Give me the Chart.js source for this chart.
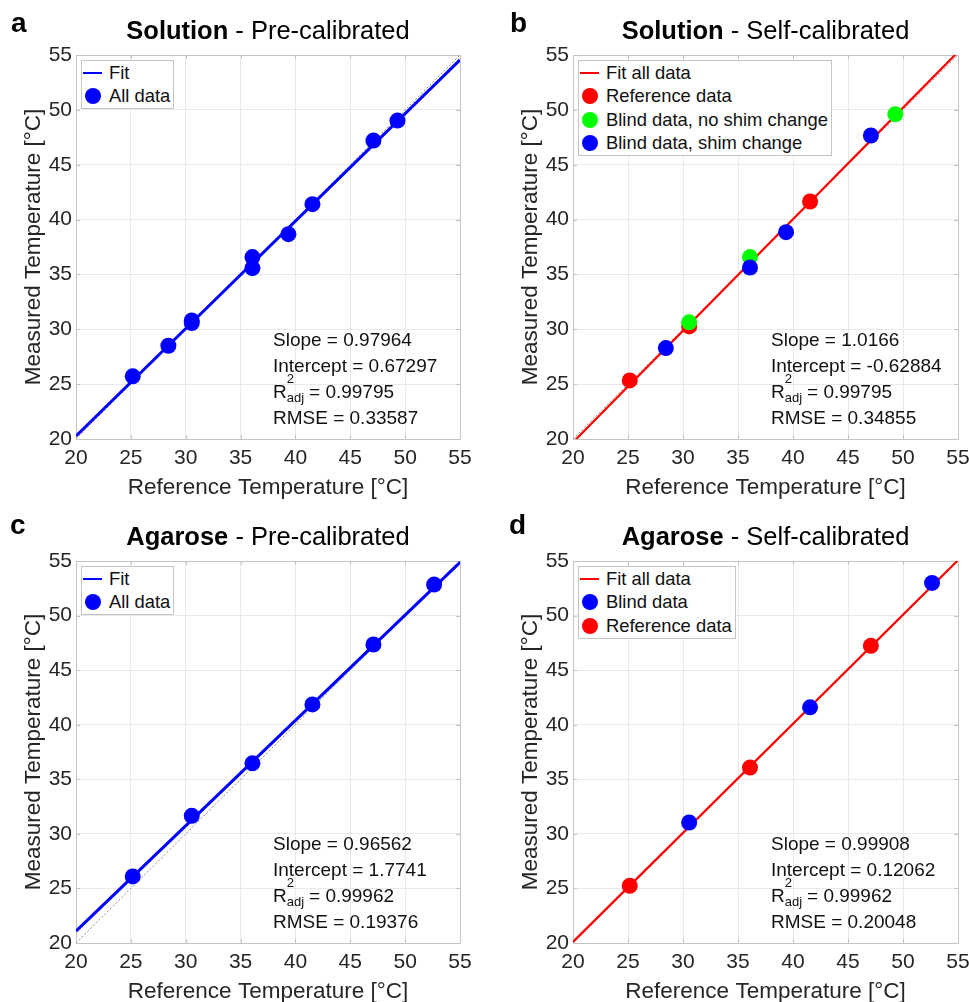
<!DOCTYPE html>
<html>
<head>
<meta charset="utf-8">
<title>Temperature calibration</title>
<script src="https://cdn.jsdelivr.net/npm/chart.js@4.4.1/dist/chart.umd.min.js"></script>
<style>
    body { margin: 0; background: #fff; }
    #fig { position: relative; width: 969px; height: 1002px; overflow: hidden; background: #fff;
           font-family: "Liberation Sans", Arial, sans-serif; }
    #fig canvas { position: absolute; }
    .letter { position: absolute; font-weight: bold; font-size: 28px; line-height: 28px; color: #000; }
    .title { position: absolute; width: 600px; text-align: center; font-size: 25.5px; line-height: 30px; color: #000; white-space: nowrap; }
    .stats { position: absolute; font-size: 19px; line-height: 26px; color: #111; white-space: nowrap; }
    .ss { position: relative; display: inline-block; width: 17px; height: 0; }
    .ss span { position: absolute; font-size: 13px; line-height: 13px; left: 0; }
    .legend { position: absolute; background: #fff; border: 1px solid #c4c4c4; padding-right: 3px;
              font-size: 18.4px; color: #111; }
    .legend .row { position: relative; height: 23.5px; display: flex; align-items: center; white-space: nowrap; }
    .legend .sw { position: relative; width: 27px; height: 23.5px; flex: none; }
    .legend .ln { position: absolute; left: 1px; width: 19px; }
    .legend .dot { position: absolute; left: 2.5px; top: 3.75px; width: 16px; height: 16px; border-radius: 50%; }
</style>
</head>
<body>
<div id="fig"></div>
<script>
const TICK_VALUES = [20, 25, 30, 35, 40, 45, 50, 55];
const X_TITLE = "Reference Temperature [°C]";
const Y_TITLE = "Measured Temperature [°C]";
const IDENTITY_X = [20, 55];
const IDENTITY_Y = [20, 55];

// a - Solution, pre-calibrated
const aRefT = [25.17, 28.42, 30.55, 30.55, 36.08, 36.08, 39.36, 41.55, 47.11, 49.30];
const aMeasT = [25.71, 28.50, 30.81, 30.57, 36.58, 35.57, 38.67, 41.40, 47.20, 49.02];
const aFitX = [20, 55];
const aFitY = [20.27, 54.55];
const aStats = ["0.97964", "0.67297", "0.99795", "0.33587"];

// b - Solution, self-calibrated
const bRefDataX = [25.16, 30.56, 41.55];
const bRefDataY = [25.34, 30.26, 41.65];
const bNoShimX = [30.56, 36.09, 49.30];
const bNoShimY = [30.63, 36.58, 49.60];
const bShimX = [28.44, 36.09, 39.37, 47.08];
const bShimY = [28.29, 35.63, 38.85, 47.66];
const bFitX = [20, 55];
const bFitY = [19.70, 55.28];
const bStats = ["1.0166", "-0.62884", "0.99795", "0.34855"];

// c - Agarose, pre-calibrated
const cRefT = [25.17, 30.55, 36.08, 41.55, 47.11, 52.64];
const cMeasT = [26.10, 31.65, 36.46, 41.86, 47.35, 52.84];
const cFitX = [20, 55];
const cFitY = [21.09, 54.88];
const cStats = ["0.96562", "1.7741", "0.99962", "0.19376"];

// d - Agarose, self-calibrated
const dBlindX = [30.56, 41.55, 52.64];
const dBlindY = [31.04, 41.59, 52.99];
const dRefDataX = [25.16, 36.09, 47.08];
const dRefDataY = [25.24, 36.07, 47.23];
const dFitX = [20, 55];
const dFitY = [20.10, 55.07];
const dStats = ["0.99908", "0.12062", "0.99962", "0.20048"];

const BLUE = "#0000ff";
const RED = "#ff0000";
const GREEN = "#00ff00";
const TEXT = "#262626";
const GRID = "#e9e9e9";
const FRAME = "#c4c4c4";
const FONT = "\"Liberation Sans\", Arial, sans-serif";

const PANELS = [
    {
        letter: "a", title: ["Solution", " - Pre-calibrated"],
        plot: { l: 76, t: 55, r: 460, b: 439 }, letterX: 11, letterBase: 33, statsX: 273, statsY: 340,
        stats: aStats,
        series: [
            { label: "Fit", kind: "line", x: aFitX, y: aFitY, color: BLUE, width: 3 },
            { label: "All data", kind: "dot", x: aRefT, y: aMeasT, color: BLUE }
        ]
    },
    {
        letter: "b", title: ["Solution", " - Self-calibrated"],
        plot: { l: 573, t: 55, r: 958, b: 439 }, letterX: 510, letterBase: 33, statsX: 771, statsY: 340,
        stats: bStats,
        series: [
            { label: "Fit all data", kind: "line", x: bFitX, y: bFitY, color: RED, width: 2.2 },
            { label: "Reference data", kind: "dot", x: bRefDataX, y: bRefDataY, color: RED },
            { label: "Blind data, no shim change", kind: "dot", x: bNoShimX, y: bNoShimY, color: GREEN },
            { label: "Blind data, shim change", kind: "dot", x: bShimX, y: bShimY, color: BLUE }
        ]
    },
    {
        letter: "c", title: ["Agarose", " - Pre-calibrated"],
        plot: { l: 76, t: 561, r: 460, b: 943 }, letterX: 10, letterBase: 535, statsX: 273, statsY: 844,
        stats: cStats,
        series: [
            { label: "Fit", kind: "line", x: cFitX, y: cFitY, color: BLUE, width: 3 },
            { label: "All data", kind: "dot", x: cRefT, y: cMeasT, color: BLUE }
        ]
    },
    {
        letter: "d", title: ["Agarose", " - Self-calibrated"],
        plot: { l: 573, t: 561, r: 958, b: 943 }, letterX: 509, letterBase: 535, statsX: 771, statsY: 844,
        stats: dStats,
        series: [
            { label: "Fit all data", kind: "line", x: dFitX, y: dFitY, color: RED, width: 2.2 },
            { label: "Blind data", kind: "dot", x: dBlindX, y: dBlindY, color: BLUE },
            { label: "Reference data", kind: "dot", x: dRefDataX, y: dRefDataY, color: RED }
        ]
    }
];

const fig = document.getElementById("fig");

function toPoints(xs, ys) {
    return xs.map((x, i) => ({ x: x, y: ys[i] }));
}

// box round the plot plus MATLAB-style inner tick marks
const framePlugin = {
    id: "frame",
    beforeDatasetsDraw(chart) {
        const { ctx, chartArea: a, scales } = chart;
        ctx.save();
        ctx.strokeStyle = FRAME;
        ctx.lineWidth = 1;
        ctx.beginPath();
        ctx.rect(a.left + 0.5, a.top + 0.5, a.right - a.left, a.bottom - a.top);
        scales.x.ticks.forEach(t => {
            const px = Math.round(scales.x.getPixelForValue(t.value)) + 0.5;
            ctx.moveTo(px, a.bottom); ctx.lineTo(px, a.bottom - 4);
            ctx.moveTo(px, a.top); ctx.lineTo(px, a.top + 4);
        });
        scales.y.ticks.forEach(t => {
            const py = Math.round(scales.y.getPixelForValue(t.value)) + 0.5;
            ctx.moveTo(a.left, py); ctx.lineTo(a.left + 4, py);
            ctx.moveTo(a.right, py); ctx.lineTo(a.right - 4, py);
        });
        ctx.stroke();
        ctx.restore();
    }
};

function axis(title, isX) {
    return {
        type: "linear",
        min: 20,
        max: 55,
        afterBuildTicks: s => { s.ticks = TICK_VALUES.map(v => ({ value: v })); },
        afterFit: s => { if (isX) s.height = 64; else s.width = 56; },
        grid: { color: GRID, drawTicks: false },
        border: { display: false },
        ticks: { color: TEXT, font: { size: 21 }, padding: isX ? 7 : 4 },
        title: { display: true, text: title, color: TEXT, font: { size: 22.5 }, padding: { top: 0, bottom: 2 } }
    };
}

function makeChart(p) {
    const canvas = document.createElement("canvas");
    canvas.width = 490;
    canvas.height = 510;
    canvas.style.left = (p.plot.l - 76) + "px";
    canvas.style.top = (p.plot.t - 55) + "px";
    fig.appendChild(canvas);

    const areaW = p.plot.r - p.plot.l;
    const areaH = p.plot.b - p.plot.t;

    const datasets = [{
        label: "",
        data: toPoints(IDENTITY_X, IDENTITY_Y),
        showLine: true,
        borderColor: "#8c8c8c",
        borderWidth: 1,
        borderDash: [2, 2],
        pointRadius: 0,
        clip: 0,
        order: 300
    }];

    p.series.forEach((s, i) => {
        if (s.kind === "line") {
            datasets.push({
                label: s.label,
                data: toPoints(s.x, s.y),
                showLine: true,
                borderColor: s.color,
                borderWidth: s.width,
                pointRadius: 0,
                clip: 0,
                order: 200
            });
        } else {
            datasets.push({
                label: s.label,
                data: toPoints(s.x, s.y),
                backgroundColor: s.color,
                borderColor: s.color,
                pointRadius: 8,
                pointHoverRadius: 8,
                pointBorderWidth: 0,
                order: 100 - i
            });
        }
    });

    new Chart(canvas, {
        type: "scatter",
        data: { datasets: datasets },
        options: {
            responsive: false,
            animation: false,
            events: [],
            layout: {
                padding: { left: 20, top: 55, right: 490 - 76 - areaW, bottom: 510 - 55 - areaH - 64 }
            },
            plugins: {
                legend: { display: false },
                tooltip: { enabled: false }
            },
            scales: {
                x: axis(X_TITLE, true),
                y: axis(Y_TITLE, false)
            }
        },
        plugins: [framePlugin]
    });
}

function addText(p) {
    const letter = document.createElement("div");
    letter.className = "letter";
    letter.textContent = p.letter;
    letter.style.left = p.letterX + "px";
    letter.style.top = (p.letterBase - 0.8465 * 28) + "px";
    fig.appendChild(letter);

    const title = document.createElement("div");
    title.className = "title";
    title.innerHTML = `<b>${p.title[0]}</b>${p.title[1]}`;
    title.style.left = ((p.plot.l + p.plot.r) / 2 - 300) + "px";
    title.style.top = (p.plot.t - 25 - 15) + "px";
    fig.appendChild(title);

    const stats = document.createElement("div");
    stats.className = "stats";
    stats.style.left = p.statsX + "px";
    stats.style.top = (p.statsY - 13) + "px";
    stats.innerHTML =
        `<div>Slope = ${p.stats[0]}</div>` +
        `<div>Intercept = ${p.stats[1]}</div>` +
        `<div>R<span class="ss"><span style="top:-25.6px">2</span><span style="top:-7.5px">adj</span></span> = ${p.stats[2]}</div>` +
        `<div>RMSE = ${p.stats[3]}</div>`;
    fig.appendChild(stats);

    const legend = document.createElement("div");
    legend.className = "legend";
    legend.style.left = (p.plot.l + 5) + "px";
    legend.style.top = (p.plot.t + 5) + "px";
    p.series.forEach(s => {
        const row = document.createElement("div");
        row.className = "row";
        const sw = document.createElement("span");
        sw.className = "sw";
        const mark = document.createElement("span");
        if (s.kind === "line") {
            mark.className = "ln";
            mark.style.height = (s.width - 0.5) + "px";
            mark.style.top = (11.75 - (s.width - 0.5) / 2) + "px";
        } else {
            mark.className = "dot";
        }
        mark.style.background = s.color;
        sw.appendChild(mark);
        const label = document.createElement("span");
        label.textContent = s.label;
        row.appendChild(sw);
        row.appendChild(label);
        legend.appendChild(row);
    });
    fig.appendChild(legend);
}

Chart.defaults.font.family = FONT;
Chart.defaults.color = TEXT;

PANELS.forEach(p => {
    makeChart(p);
    addText(p);
});
</script>
</body>
</html>
